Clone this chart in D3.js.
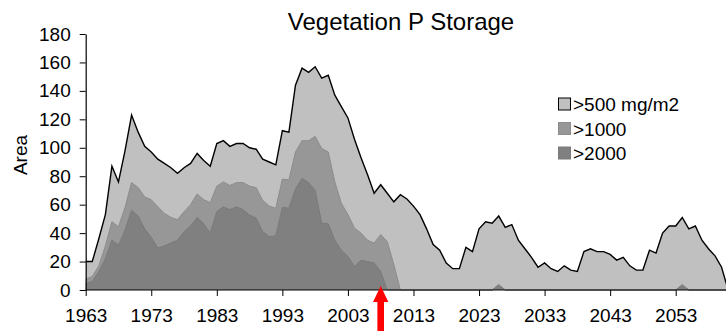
<!DOCTYPE html>
<html>
<head>
<meta charset="utf-8">
<script src="https://cdn.jsdelivr.net/npm/d3@7"></script>
<style>
  html, body { margin: 0; padding: 0; background: #fff; }
  svg { display: block; font-family: "Liberation Sans", Arial, sans-serif; }
</style>
</head>
<body>
<svg id="chart" width="726" height="331"></svg>
<script>
// Area of vegetation P storage above each threshold, by year
const years = d3.range(1963, 2062);

const over500 = [
  20, 20, 36, 53, 87, 76, 98, 123, 111, 101,
  97, 92, 89, 86, 82, 86, 89, 96, 91, 87,
  103, 105, 101, 103, 103, 100, 99, 92, 90, 88,
  112, 111, 144, 156, 153, 157, 149, 151, 137, 129,
  121, 106, 93, 81, 68, 74, 68, 62, 67, 64,
  59, 53, 43, 32, 28, 19, 15, 15, 30, 27,
  43, 48, 47, 52, 44, 46, 35, 29, 23, 16,
  19, 15, 13, 17, 14, 13, 27, 29, 27, 27,
  25, 21, 23, 17, 14, 14, 28, 26, 40, 45,
  45, 51, 43, 45, 35, 29, 24, 16, 0
];

const over1000 = [
  7.5, 9.5, 17, 31, 48, 44.5, 58, 75.5, 72, 65.5,
  63.5, 58.5, 54, 51, 49.5, 55, 60, 67.5, 63.5, 61.5,
  73, 76, 73.5, 75.5, 75.5, 73, 72, 63, 59, 57.5,
  78, 77.5, 97, 105, 105, 108, 99.5, 97, 76, 61,
  53, 43.5, 40, 35, 33, 39, 34, 18, 0, 0,
  0, 0, 0, 0, 0, 0, 0, 0, 0, 0,
  0, 0, 0, 4, 0, 0, 0, 0, 0, 0,
  0, 0, 0, 0, 0, 0, 0, 0, 0, 0,
  0, 0, 0, 0, 0, 0, 0, 0, 0, 0,
  0, 4, 0, 0, 0, 0, 0, 0, 0
];

const over2000 = [
  4.5, 6, 13, 22, 35, 31.5, 42, 56, 52, 43,
  37, 29.5, 31, 33, 35, 41, 45, 51, 46.5, 40,
  55, 58.5, 56.5, 58.5, 56.5, 52.7, 50.5, 41, 37.5, 38,
  58, 57.5, 71, 78.5, 75.5, 70, 47, 46.5, 35, 28,
  23.5, 16.5, 21, 20, 19, 13, 0, 0, 0, 0,
  0, 0, 0, 0, 0, 0, 0, 0, 0, 0,
  0, 0, 0, 3, 0, 0, 0, 0, 0, 0,
  0, 0, 0, 0, 0, 0, 0, 0, 0, 0,
  0, 0, 0, 0, 0, 0, 0, 0, 0, 0,
  0, 3, 0, 0, 0, 0, 0, 0, 0
];

const seriesNames = [">500 mg/m2", ">1000", ">2000"];
const yTicks = d3.range(0, 181, 20);
const xTicks = d3.range(1963, 2054, 10);
const markerYear = 2008;

const svg = d3.select("#chart");

const x = d3.scaleLinear().domain([1963, 2053]).range([85.7, 675.7]);
const y = d3.scaleLinear().domain([0, 180]).range([290, 34]);

const layers = [
  { name: seriesNames[0], values: over500,  fill: "#c0c0c0", stroke: "#000000", width: 1.4 },
  { name: seriesNames[1], values: over1000, fill: "#979797", stroke: "#8c8c8c", width: 1 },
  { name: seriesNames[2], values: over2000, fill: "#808080", stroke: "#7a7a7a", width: 1 }
];

const area = d3.area()
  .x((d, i) => x(years[i]))
  .y0(y(0))
  .y1(d => y(d));

const line = d3.line()
  .x((d, i) => x(years[i]))
  .y(d => y(d));

const plot = svg.append("g");
layers.forEach(l => {
  plot.append("path")
    .attr("d", area(l.values))
    .attr("fill", l.fill);
  plot.append("path")
    .attr("d", line(l.values))
    .attr("fill", "none")
    .attr("stroke", l.stroke)
    .attr("stroke-width", l.width)
    .attr("stroke-linejoin", "miter");
});

// Axes
const yAxis = d3.axisLeft(y).tickValues(yTicks).tickSize(6).tickSizeOuter(0).tickPadding(9);
const xAxis = d3.axisBottom(x).tickValues(xTicks).tickFormat(d3.format("d"))
  .tickSize(6).tickSizeOuter(0).tickPadding(13);

const gy = svg.append("g").attr("transform", `translate(${x(1963)},0)`).call(yAxis);
const gx = svg.append("g").attr("transform", `translate(0,${y(0)})`).call(xAxis);
gx.select(".domain").attr("d", `M${x(1963)},0H726`);

[gx, gy].forEach(g => {
  g.select(".domain").attr("stroke", "#000").attr("stroke-width", 1.2);
  g.selectAll(".tick line").attr("stroke", "#000");
  g.selectAll(".tick text")
    .attr("fill", "#000")
    .style("font-size", "19px")
    .style("font-family", "'Liberation Sans', Arial, sans-serif");
});

// Axis title and chart title
svg.append("text")
  .attr("transform", "translate(27,155) rotate(-90)")
  .attr("text-anchor", "middle")
  .style("font-size", "19px")
  .text("Area");

svg.append("text")
  .attr("x", 401)
  .attr("y", 30)
  .attr("text-anchor", "middle")
  .style("font-size", "24px")
  .text("Vegetation P Storage");

// Legend
const legend = svg.append("g").attr("transform", "translate(558,0)");
const legendY = [104, 128.5, 153];
layers.forEach((l, i) => {
  const row = legend.append("g").attr("transform", `translate(0,${legendY[i]})`);
  row.append("rect")
    .attr("x", 0.5).attr("y", -6)
    .attr("width", 12).attr("height", 12)
    .attr("fill", l.fill)
    .attr("stroke", i === 0 ? "#000" : l.stroke)
    .attr("stroke-width", 1);
  row.append("text")
    .attr("x", 15)
    .attr("y", 7)
    .style("font-size", "19px")
    .text(l.name);
});

// Red arrow pointing at the marker year on the time axis
const ax = x(markerYear);
const tipY = 286;
svg.append("path")
  .attr("d", [
    [ax, tipY], [ax + 7.7, tipY + 16], [ax + 3.3, tipY + 16], [ax + 3.3, 331],
    [ax - 3.3, 331], [ax - 3.3, tipY + 16], [ax - 7.7, tipY + 16]
  ].map((p, i) => (i ? "L" : "M") + p[0] + "," + p[1]).join("") + "Z")
  .attr("fill", "#ff0000");
</script>
</body>
</html>
